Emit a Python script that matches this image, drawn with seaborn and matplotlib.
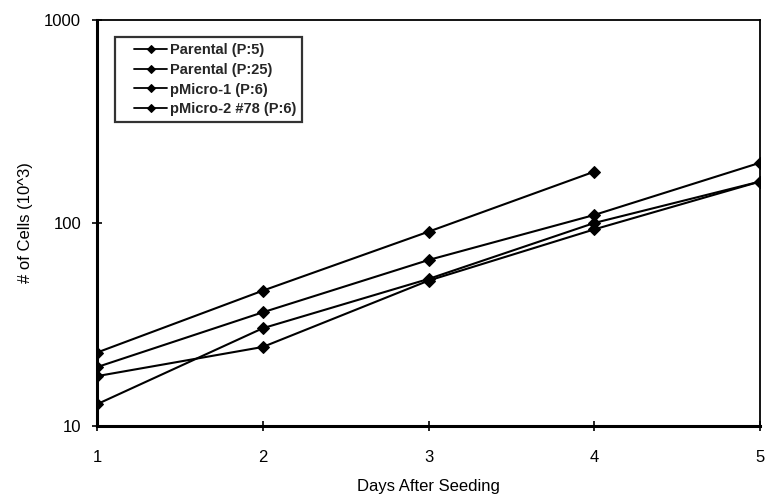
import numpy as np
import pandas as pd
import matplotlib
matplotlib.use("Agg")
import matplotlib.pyplot as plt
from matplotlib.lines import Line2D
from matplotlib.legend_handler import HandlerLine2D
import seaborn as sns

days = [1, 2, 3, 4, 5]
series_names = ["Parental (P:5)", "Parental (P:25)", "pMicro-1 (P:6)", "pMicro-2 #78 (P:6)"]
parental_p5 = [23, 46.4, 90.6, 179, np.nan]
parental_p25 = [19.5, 36.3, 65.7, 109.5, 198]
pmicro1_p6 = [17.6, 24.5, 52, 93, 160]
pmicro2_p6 = [12.8, 30.3, 53, 100, 160]

values = [parental_p5, parental_p25, pmicro1_p6, pmicro2_p6]
df = pd.DataFrame(
    [(d, name, v) for name, vals in zip(series_names, values) for d, v in zip(days, vals)],
    columns=["day", "series", "cells"],
).dropna()

sns.set_theme(style="white")
plt.rcParams["font.family"] = ["Liberation Sans", "DejaVu Sans"]

fig = plt.figure(figsize=(7.65, 4.97), dpi=100)
ax = fig.add_axes([0.1268, 0.1429, 0.8667, 0.8169])

sns.lineplot(
    data=df, x="day", y="cells", hue="series", hue_order=series_names,
    palette=["black"] * 4, marker="D", markersize=6, linewidth=1.5,
    markeredgecolor="black", ax=ax, legend=True,
)

ax.set_yscale("log")
ax.set_ylim(10, 1000)
ax.set_xlim(1, 5)
ax.set_xticks(days)
ax.set_xticklabels([str(d) for d in days])
ax.set_yticks([10, 100, 1000])
ax.set_yticklabels(["10", "100", "1000"])
ax.minorticks_off()
ax.tick_params(axis="both", which="major", direction="inout", length=7, width=1.2,
               labelsize=12, colors="black", bottom=True, left=True)
ax.tick_params(axis="x", pad=14)
ax.tick_params(axis="y", pad=8)

for side in ["left", "bottom"]:
    ax.spines[side].set_color("black")
    ax.spines[side].set_linewidth(2.2)
for side in ["top", "right"]:
    ax.spines[side].set_color("black")
    ax.spines[side].set_linewidth(1.3)

ax.set_xlabel("Days After Seeding", fontsize=12, color="black", labelpad=10)
ax.set_ylabel("# of Cells (10^3)", fontsize=12, color="black", labelpad=8)

# legend handles are indented from the frame and kept short
leg = ax.legend(
    loc="upper left", bbox_to_anchor=(0.027, 0.958), frameon=True, fancybox=False,
    prop={"size": 10.5, "weight": "bold"}, handlelength=3.2, handletextpad=0.15,
    borderpad=0.4, labelspacing=0.4, borderaxespad=0,
    handler_map={Line2D: HandlerLine2D(xpad=0.9)},
)
leg.get_frame().set_edgecolor("black")
leg.get_frame().set_linewidth(1.6)
for h in leg.legend_handles:
    h.set_linewidth(1.3)
    h.set_markersize(4)

fig.savefig("out.png", dpi=100, facecolor="white")
